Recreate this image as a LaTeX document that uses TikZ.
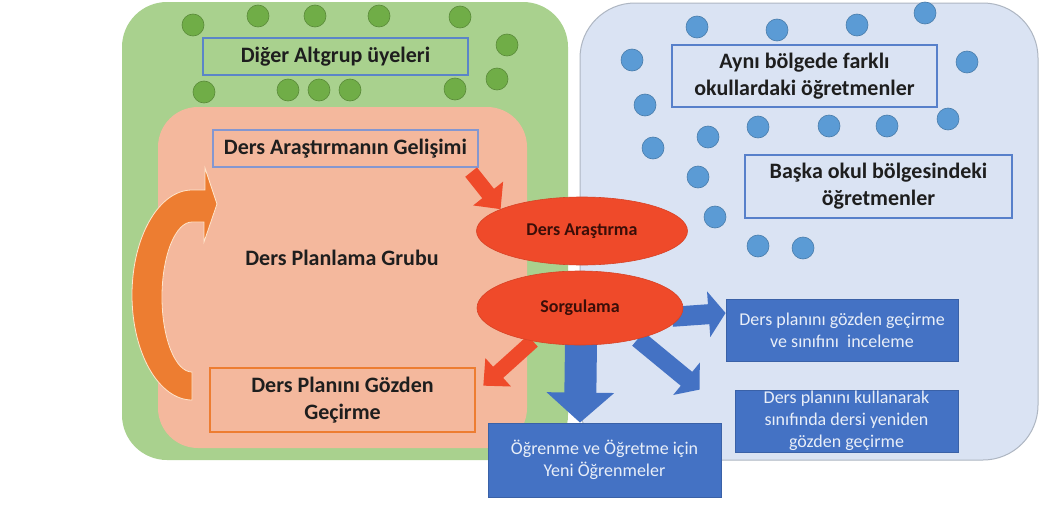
\documentclass[tikz,border=0pt]{standalone}
\usepackage{fontspec}
\setmainfont{Carlito}
\usetikzlibrary{arrows.meta,shapes.geometric,calc}
\definecolor{grn}{HTML}{A9D18E}
\definecolor{grndot}{HTML}{70AD47}
\definecolor{salmon}{HTML}{F4B89D}
\definecolor{lblue}{HTML}{DAE3F3}
\definecolor{bdot}{HTML}{5B9BD5}
\definecolor{bbox}{HTML}{4472C4}
\definecolor{redc}{HTML}{EF4A2A}
\definecolor{orng}{HTML}{ED7D31}
\definecolor{txt}{HTML}{1E1E1E}
\definecolor{ltxt}{HTML}{E8EEF8}
\definecolor{boxblue}{HTML}{5B85C8}
\definecolor{boxblue2}{HTML}{8497D0}
\definecolor{ovaltxt}{HTML}{3A0E08}
\begin{document}
\begin{tikzpicture}[x=1pt,y=-1pt,
  region/.style={inner sep=0pt, outer sep=0pt},
  gdot/.style={fill=grndot, draw=grndot!80!black, line width=0.6pt},
  bdotst/.style={fill=bdot, draw=bdot!80!black, line width=0.6pt},
  tbox/.style={draw, line width=2.2pt, align=center, inner sep=0pt,
    font=\bfseries\fontsize{22}{27}\selectfont, text=txt},
  bluebox/.style={fill=bbox, draw=bbox!85!black, line width=0.8pt, align=center, inner sep=0pt,
    font=\fontsize{18}{22}\selectfont, text=ltxt},
  oval/.style={ellipse, fill=redc, draw=redc!90!black, line width=0.6pt, inner sep=0pt,
    font=\bfseries\fontsize{18}{21}\selectfont, text=ovaltxt},
  redarr/.style={draw=redc, line width=15pt, line cap=butt, -{Triangle[width=37pt,length=20pt]}},
]
\useasboundingbox[fill=white] (0,0) rectangle (1041,522);

% green region
\node[region, fill=grn, rounded corners=45pt, minimum width=446pt, minimum height=458pt] (green) at (345,231) {};
\foreach \x/\y in {193/25,258/16,315/16,379/16,460/17,507/45,497/79,455/89,204/92,288/90,319/90,350/90}
  \path[gdot] (\x,\y) circle[radius=11pt];

% salmon region
\node[region, fill=salmon, rounded corners=40pt, minimum width=369pt, minimum height=341pt] (salmonreg) at (342.5,277.5) {};

% orange circular arrow
\path[fill=orng, draw=orange!20!white, line width=0.8pt]
  (192,190) .. controls (158.9,190) and (132,237) .. (132,295)
  .. controls (132,353) and (158.9,400) .. (192,400)
  -- (192,372)
  .. controls (175.4,372) and (162,338.4) .. (162,297)
  .. controls (162,255.6) and (175.4,222) .. (192,222)
  -- (204,222) -- (204,242) -- (217,204) -- (205,168) -- (205,190) -- cycle;

% boxes in green/salmon
\node[tbox, draw=boxblue, fill=grn, minimum width=265pt, minimum height=37pt] (diger) at (335.5,56.5) {Diğer Altgrup üyeleri};
\node[tbox, draw=boxblue2, fill=salmon, minimum width=265pt, minimum height=37pt] (gelis) at (345.5,148.5) {Ders Araştırmanın Gelişimi};
\node[font=\bfseries\fontsize{22}{27}\selectfont, text=txt] (grup) at (342,258) {Ders Planlama Grubu};
\node[tbox, draw=orng, line width=2.6pt, fill=salmon, minimum width=265pt, minimum height=64pt] (plan) at (342.5,400) {Ders Planını Gözden\\Geçirme};

% blue region
\node[region, fill=lblue, draw=black!20!lblue, line width=1pt, rounded corners=55pt, minimum width=458pt, minimum height=457pt] (bluereg) at (809,231.5) {};
\foreach \x/\y in {697/27,777/30,857/25,925/13,632/60,967/62,645/105,758/127,829/126,887/126,948/119,653/148,708/137,698/177,715/217,758/246,803/248}
  \path[bdotst] (\x,\y) circle[radius=11pt];
\node[tbox, draw=bbox!90!white, minimum width=265pt, minimum height=62pt] (ayni) at (804.5,76) {Aynı bölgede farklı\\okullardaki öğretmenler};
\node[tbox, draw=bbox!90!white, minimum width=267pt, minimum height=63pt] (baska) at (878.5,186.5) {Başka okul bölgesindeki\\öğretmenler};

% output boxes
\node[bluebox, minimum width=232pt, minimum height=62pt] (boxA) at (842,330) {Ders planını gözden geçirme\\ve sınıfını\ \ inceleme};
\node[bluebox, minimum width=223pt, minimum height=62pt] (boxB) at (846.5,421) {Ders planını kullanarak\\sınıfında dersi yeniden\\gözden geçirme};
\node[bluebox, minimum width=233pt, minimum height=74pt] (ogren) at (604.5,460) {Öğrenme ve Öğretme için\\Yeni Öğrenmeler};

% ellipse placeholders for anchors (drawn after arrows)
\path (582,231) coordinate (arastc) (580,308) coordinate (sorgc);
\node[ellipse, inner sep=0pt, minimum width=211pt, minimum height=68pt] (arast) at (arastc) {};
\node[ellipse, inner sep=0pt, minimum width=206pt, minimum height=74pt] (sorg) at (sorgc) {};

% arrows
\draw[redarr] ($(gelis.south east)+(-8,4)$) -- (arast.165);
\draw[redarr] (sorg.-145) -- ($(plan.north east)+(7,19)$);
\draw[draw=bbox, line width=20pt, line cap=butt, -{Triangle[width=45pt,length=17pt]}] ($(sorg.-5)+(-8,0)$) -- ($(boxA.west)+(0,-17)$);
\coordinate (a2end) at ($(boxB.north west)+(-35,0)$);
\draw[draw=bbox, line width=18pt, line cap=butt, -{Triangle[width=41pt,length=17pt]}] (sorg.-28) -- (a2end);
\draw[draw=bbox, line width=32pt, line cap=butt, -{Triangle[width=66pt,length=30pt]}] ($(sorg.south)+(1,-4)$) -- (sorg.south |- ogren.north);

% ellipses
\node[oval, minimum width=211pt, minimum height=68pt] (arastE) at (arastc) {Ders Araştırma};
\node[oval, minimum width=206pt, minimum height=74pt] (sorgE) at (sorgc) {Sorgulama};
\end{tikzpicture}
\end{document}
